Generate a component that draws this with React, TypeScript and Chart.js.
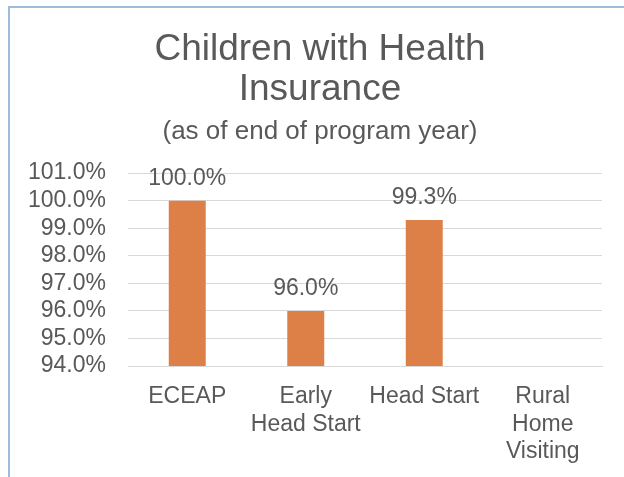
import React, { useEffect, useRef } from "react";
import { Chart, registerables } from "chart.js";

Chart.register(...registerables);

const titleLines = ["Children with Health", "Insurance"];
const subtitleText = "(as of end of program year)";
const categories: (string | string[])[] = [
  "ECEAP",
  ["Early", "Head Start"],
  "Head Start",
  ["Rural", "Home", "Visiting"],
];
const insuredPct: (number | null)[] = [100.0, 96.0, 99.3, null];
const yMin = 94;
const yMax = 101;
const yStep = 1;

const FONT = "'Liberation Sans', Arial, sans-serif";
const TEXT = "#595959";
const BAR = "#DD8047";
const GRID = "#D9D9D9";

const valueLabels = {
  id: "valueLabels",
  afterDatasetsDraw(chart: any) {
    const ctx = chart.ctx;
    const meta = chart.getDatasetMeta(0);
    ctx.save();
    ctx.font = `23px ${FONT}`;
    ctx.fillStyle = TEXT;
    ctx.textAlign = "center";
    ctx.textBaseline = "alphabetic";
    meta.data.forEach((el: any, i: number) => {
      const v = insuredPct[i];
      if (v === null || v === undefined) return;
      ctx.fillText(v.toFixed(1) + "%", el.x, el.y - 16);
    });
    ctx.restore();
  },
};

export default function App() {
  const ref = useRef<HTMLCanvasElement>(null);
  useEffect(() => {
    if (!ref.current) return;
    const chart = new Chart(ref.current, {
      type: "bar",
      data: {
        labels: categories,
        datasets: [
          {
            data: insuredPct,
            backgroundColor: BAR,
            borderWidth: 0,
            barPercentage: 0.312,
            categoryPercentage: 1,
          },
        ],
      },
      options: {
        responsive: false,
        animation: false,
        devicePixelRatio: 1,
        layout: { padding: { left: 28, right: 22, top: 0, bottom: 0 } },
        plugins: {
          legend: { display: false },
          tooltip: { enabled: false },
          title: {
            display: true,
            text: titleLines,
            color: TEXT,
            font: { family: FONT, size: 37, weight: "normal", lineHeight: 1.08 },
            padding: { top: 22, bottom: 0 },
          },
          subtitle: {
            display: true,
            text: subtitleText,
            color: TEXT,
            font: { family: FONT, size: 26, weight: "normal", lineHeight: 1.2 },
            padding: { top: 6, bottom: 26 },
          },
        },
        scales: {
          x: {
            grid: { display: false, drawTicks: false },
            border: { display: true, color: GRID, width: 1 },
            ticks: {
              color: TEXT,
              font: { family: FONT, size: 23, lineHeight: 1.2 },
              padding: 17,
              maxRotation: 0,
              autoSkip: false,
            },
            afterFit: (s: any) => {
              s.height = 111;
            },
          },
          y: {
            min: yMin,
            max: yMax,
            grid: { color: GRID, lineWidth: 1, drawTicks: false },
            border: { display: false },
            ticks: {
              stepSize: yStep,
              autoSkip: false,
              color: TEXT,
              font: { family: FONT, size: 23, lineHeight: 1 },
              padding: 22,
              callback: (v: any) => Number(v).toFixed(1) + "%",
            },
            afterFit: (s: any) => {
              s.width = 90;
              // let the tick labels reach past the narrow axis box
              s._computeLabelArea = () => undefined;
            },
          },
        },
      },
      plugins: [valueLabels],
    });
    return () => chart.destroy();
  }, []);

  return (
    <div
      style={{
        position: "absolute",
        left: 8,
        top: 6,
        width: 616,
        height: 471,
        borderLeft: "2px solid #9DBCDC",
        borderTop: "2px solid #9DBCDC",
        boxSizing: "border-box",
        background: "#fff",
      }}
    >
      <canvas ref={ref} width={614} height={469} style={{ display: "block" }} />
    </div>
  );
}
